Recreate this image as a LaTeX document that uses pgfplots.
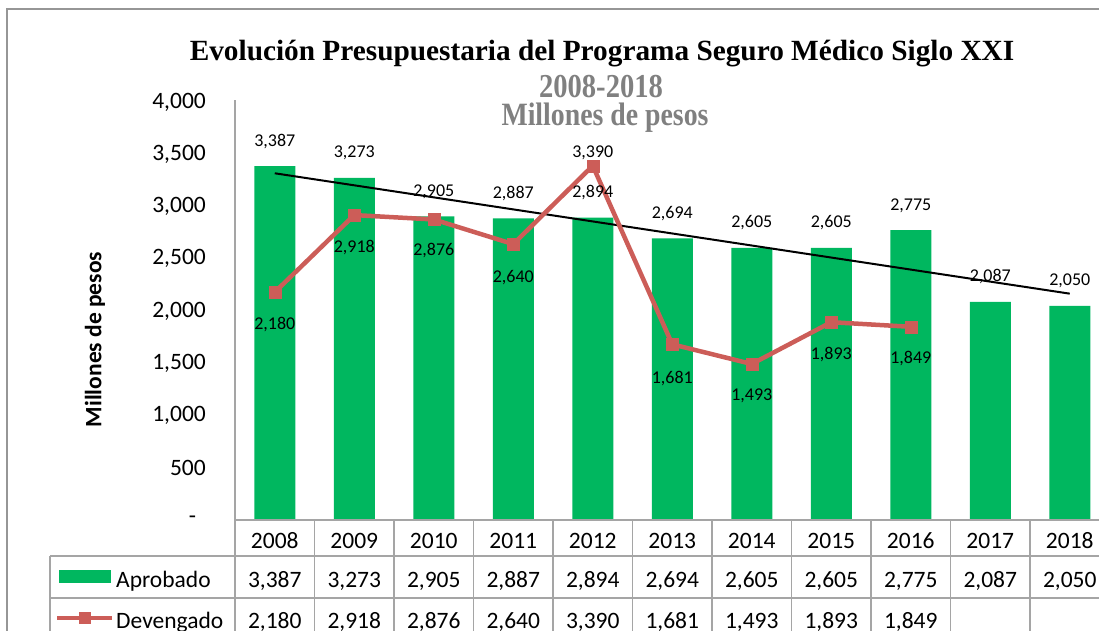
\documentclass[border=0pt]{standalone}
\usepackage{pgfplots}
\pgfplotsset{compat=1.18}
\usepackage{pgfplotstable}
\usepackage{graphicx}
\usepackage{fontspec}
\setmainfont{Carlito}
\newfontfamily\tnr{Liberation Serif}

\definecolor{barg}{RGB}{0,183,95}
\definecolor{devred}{RGB}{204,93,88}
\definecolor{gridg}{RGB}{165,165,165}
\definecolor{frameg}{RGB}{150,150,150}
\definecolor{subg}{RGB}{128,128,128}

\pgfkeys{/pgf/number format/.cd, 1000 sep={,}, assume math mode=true}

% Aprobado (bars)
\pgfplotstableread{
x year aprob
0 2008 3387
1 2009 3273
2 2010 2905
3 2011 2887
4 2012 2894
5 2013 2694
6 2014 2605
7 2015 2605
8 2016 2775
9 2017 2087
10 2018 2050
}\aprobtbl

% Devengado (line), off = label shift in bp
\pgfplotstableread{
x deven off
0 2180 -37
1 2918 -37
2 2876 -36
3 2640 -38
4 3390 8
5 1681 -39
6 1493 -37
7 1893 -37
8 1849 -37
}\deventbl

\newcommand\tabfont{\fontsize{23.5bp}{28bp}\selectfont}
\newcommand\lblfont{\fontsize{18bp}{21bp}\selectfont}
\newcommand\zerodash{\makebox[17bp][l]{-}}

\begin{document}
\begin{tikzpicture}
\begin{scope}
\clip (0,0) rectangle (1099bp,-631bp);

% chart frame
\draw[frameg, line width=1.5bp] (7bp,-631bp) -- (7bp,-9bp) -- (1110bp,-9bp);

% titles
\node[anchor=base, font=\tnr\bfseries\fontsize{29.3bp}{32bp}\selectfont] at (602bp,-60bp)
  {Evolución Presupuestaria del Programa Seguro Médico Siglo XXI};
\node[anchor=base, text=subg, font=\tnr\bfseries\fontsize{28.6bp}{32bp}\selectfont] at (601bp,-97bp)
  {\scalebox{1}[1.17]{2008-2018}};
\node[anchor=base, text=subg, font=\tnr\bfseries\fontsize{27.8bp}{32bp}\selectfont] at (605bp,-125bp)
  {\scalebox{1}[1.17]{Millones de pesos}};

% y label
\node[rotate=90, font=\bfseries\fontsize{23.5bp}{28bp}\selectfont] at (95bp,-339.5bp) {Millones de pesos};

\begin{axis}[
    at={(235bp,-520bp)}, anchor=south west,
    scale only axis, width=874.5bp, height=418bp,
    xmin=-0.5, xmax=10.5,
    ymin=0, ymax=4000,
    axis line style={draw=none},
    xtick=\empty,
    ytick={0,500,1000,1500,2000,2500,3000,3500,4000},
    yticklabels={\zerodash,500,{1,000},{1,500},{2,000},{2,500},{3,000},{3,500},{4,000}},
    major tick length=0pt,
    yticklabel style={font=\tabfont, inner sep=0pt, xshift=-29bp},
    clip=false,
]
\addplot[ybar, bar width=41bp, fill=barg, draw=none,
    nodes near coords,
    every node near coord/.append style={font=\lblfont, text=black, anchor=base, yshift=20bp},
    ] table[x=x, y=aprob] {\aprobtbl};

\addplot[black, line width=2bp, mark=none] coordinates {(0,3318) (10,2166)};

\addplot[devred, line width=4.5bp, mark=square*, mark size=6bp,
    mark options={solid, line width=0.5bp, fill=devred},
    nodes near coords,
    visualization depends on={\thisrow{off} \as \off},
    every node near coord/.append style={font=\lblfont, text=black, anchor=base, yshift=\off bp},
    ] table[x=x, y=deven] {\deventbl};
\end{axis}

% data table grid
\draw[gridg, line width=1.5bp] (235bp,-100bp) -- (235bp,-631bp);
\draw[gridg, line width=1.5bp] (235bp,-520bp) -- (1110bp,-520bp);
\draw[gridg, line width=1.5bp] (50bp,-556bp) -- (1110bp,-556bp);
\draw[gridg, line width=1.5bp] (50bp,-598bp) -- (1110bp,-598bp);
\draw[gridg, line width=1.5bp] (50bp,-556bp) -- (50bp,-631bp);
\foreach \k in {1,...,10}
  \draw[gridg, line width=1.5bp] ({235bp+79.5bp*\k},-520bp) -- ({235bp+79.5bp*\k},-631bp);

% legend keys in the table
\fill[barg] (59bp,-570bp) rectangle (111bp,-583bp);
\node[anchor=base west, font=\tabfont, inner sep=0pt] at (116bp,-587bp) {Aprobado};
\draw[devred, line width=4.5bp] (57bp,-618bp) -- (112bp,-618bp);
\fill[devred] (79bp,-612bp) rectangle (91bp,-624bp);
\node[anchor=base west, font=\tabfont, inner sep=0pt] at (116bp,-628bp) {Devengado};

% table values
\foreach \i in {0,...,10}{
  \pgfplotstablegetelem{\i}{year}\of\aprobtbl
  \node[anchor=base, font=\tabfont, inner sep=0pt] at ({274.75bp+79.5bp*\i},-548bp) {\pgfplotsretval};
  \pgfplotstablegetelem{\i}{aprob}\of\aprobtbl
  \node[anchor=base, font=\tabfont, inner sep=0pt] at ({274.75bp+79.5bp*\i},-587bp) {\pgfmathprintnumber{\pgfplotsretval}};
}
\foreach \i in {0,...,8}{
  \pgfplotstablegetelem{\i}{deven}\of\deventbl
  \node[anchor=base, font=\tabfont, inner sep=0pt] at ({274.75bp+79.5bp*\i},-628bp) {\pgfmathprintnumber{\pgfplotsretval}};
}
\end{scope}
\pgfresetboundingbox
\useasboundingbox (0,0) rectangle (1099bp,-631bp);
\end{tikzpicture}
\end{document}
